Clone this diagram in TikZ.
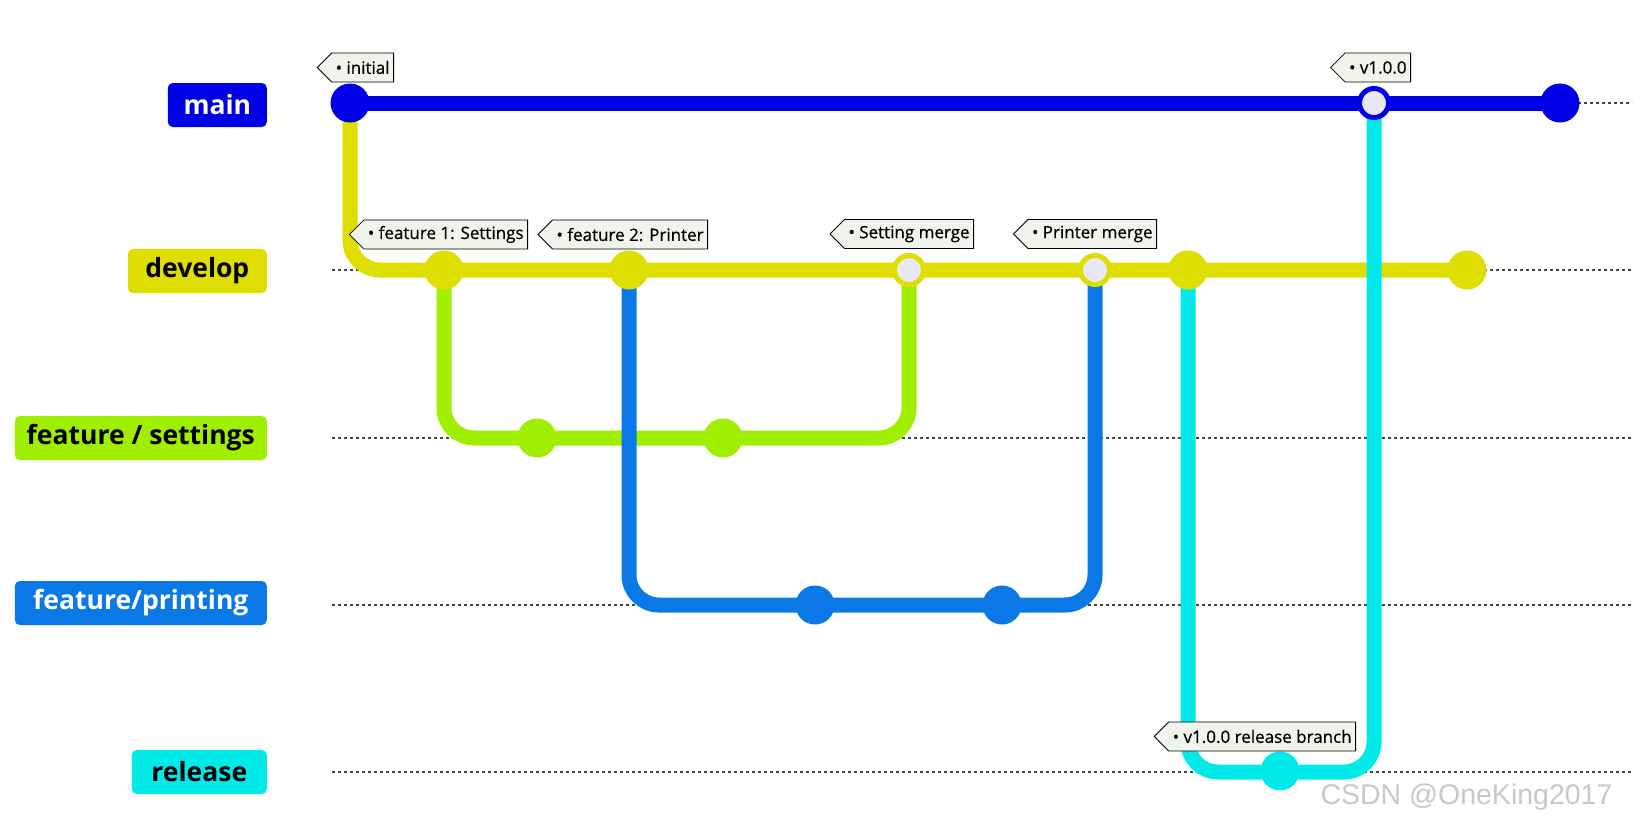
\documentclass[tikz,border=0pt]{standalone}
\usepackage{fontspec}
\setmainfont{Open Sans}
\newfontfamily\tagfont{Open Sans}[FakeBold=0.6]
\newfontfamily\wmfont{Liberation Sans}
\usetikzlibrary{shapes.symbols}
\definecolor{mainblue}{HTML}{0000E6}
\definecolor{devyellow}{HTML}{DEDE00}
\definecolor{setgreen}{HTML}{A0EE00}
\definecolor{printblue}{HTML}{0A78E6}
\definecolor{relcyan}{HTML}{00EAEA}
\definecolor{mergefill}{HTML}{E8E8F6}
\definecolor{tagfill}{HTML}{F0F4EC}
\definecolor{dotgray}{HTML}{444444}
\definecolor{wmgray}{HTML}{C8C8C8}
\tikzset{
  branchlabel/.style={rounded corners=5pt, minimum height=44pt, inner sep=0pt, anchor=east,
    font=\fontsize{26.5}{30}\selectfont\bfseries},
  commit/.style={circle, inner sep=0pt, minimum size=39pt, fill=#1},
  mergec/.style={circle, inner sep=0pt, minimum size=29pt, fill=mergefill, draw=#1, line width=5pt},
  branchline/.style={line width=15pt, rounded corners=30pt},
  guide/.style={draw=dotgray, line width=1.4pt, dash pattern=on 3pt off 3pt},
  tagbox/.style={signal, signal to=west, signal pointer angle=90, draw=black, line width=0.8pt,
    fill=tagfill, minimum height=29pt, inner ysep=0pt, inner xsep=4pt, anchor=east,
    font=\fontsize{17}{19}\tagfont}
}
\begin{document}
\begin{tikzpicture}[x=1pt,y=-1pt]
\useasboundingbox (0,0) rectangle (1650,827);
% guide coordinates
\coordinate (gm0) at (1578,103); \coordinate (gm1) at (1632,103);
\coordinate (gd0) at (332,270); \coordinate (gd1) at (1632,270);
\coordinate (gs0) at (332,438); \coordinate (gs1) at (1632,438);
\coordinate (gp0) at (332,605); \coordinate (gp1) at (1632,605);
\coordinate (gr0) at (332,772); \coordinate (gr1) at (1632,772);
\draw[guide] (gm0) -- (gm1);
\draw[guide] (gd0) -- (gd1);
\draw[guide] (gs0) -- (gs1);
\draw[guide] (gp0) -- (gp1);
\draw[guide] (gr0) -- (gr1);
% branch labels
\node[branchlabel, fill=mainblue, text=white, minimum width=99pt] (lmain) at (267,105) {main};
\node[branchlabel, fill=devyellow, text=black, minimum width=139pt] (ldev) at (267,271) {develop};
\node[branchlabel, fill=setgreen, text=black, minimum width=252pt] (lset) at (267,438) {feature / settings};
\node[branchlabel, fill=printblue, text=white, minimum width=252pt] (lprint) at (267,603) {feature/printing};
\node[branchlabel, fill=relcyan, text=black, minimum width=135pt] (lrel) at (267,772) {release};
% commit positions
\coordinate (m1) at (350,103);
\coordinate (mv) at (1374,103);
\coordinate (m2) at (1560,103);
\coordinate (d1) at (444,270);
\coordinate (d2) at (629,270);
\coordinate (d3) at (909,270);
\coordinate (d4) at (1095,270);
\coordinate (d5) at (1188,270);
\coordinate (d6) at (1467,270);
\coordinate (s1) at (537,438);
\coordinate (s2) at (723,438);
\coordinate (p1) at (815,605);
\coordinate (p2) at (1002,605);
\coordinate (r1) at (1280,772);
% branch lines
\draw[branchline, devyellow] (m1) |- (d6);
\draw[branchline, setgreen] (d1) |- (s1) -- (s2) -| (d3);
\draw[branchline, printblue] (d2) |- (p1) -- (p2) -| (d4);
\draw[branchline, relcyan] (d5) |- (r1) -| (mv);
\draw[branchline, mainblue] (m1) -- (m2);
% commits
\node[commit=mainblue] (cm1) at (m1) {};
\node[mergec=mainblue] (cmv) at (mv) {};
\node[commit=mainblue] (cm2) at (m2) {};
\node[commit=devyellow] (cd1) at (d1) {};
\node[commit=devyellow] (cd2) at (d2) {};
\node[mergec=devyellow] (cd3) at (d3) {};
\node[mergec=devyellow] (cd4) at (d4) {};
\node[commit=devyellow] (cd5) at (d5) {};
\node[commit=devyellow] (cd6) at (d6) {};
\node[commit=setgreen] (cs1) at (s1) {};
\node[commit=setgreen] (cs2) at (s2) {};
\node[commit=printblue] (cp1) at (p1) {};
\node[commit=printblue] (cp2) at (p2) {};
\node[commit=relcyan] (cr1) at ([yshift=1pt]r1) {};
% tags
\node[tagbox] (tinit) at (394,67.5) {\textbullet\ initial};
\node[tagbox] (tv) at (1411,67.5) {\textbullet\ v1.0.0};
\node[tagbox] (tf1) at (528,234.5) {\textbullet\ feature 1: Settings};
\node[tagbox] (tf2) at (708,234.5) {\textbullet\ feature 2: Printer};
\node[tagbox] (tsm) at (974,234) {\textbullet\ Setting merge};
\node[tagbox] (tpm) at (1157,234) {\textbullet\ Printer merge};
\node[tagbox] (trel) at (1356,736.5) {\textbullet\ v1.0.0 release branch};
% watermark
\node[anchor=east, text=wmgray, font=\fontsize{28.5}{31}\wmfont] (wm) at (1616,797) {CSDN @OneKing2017};
\end{tikzpicture}
\end{document}
